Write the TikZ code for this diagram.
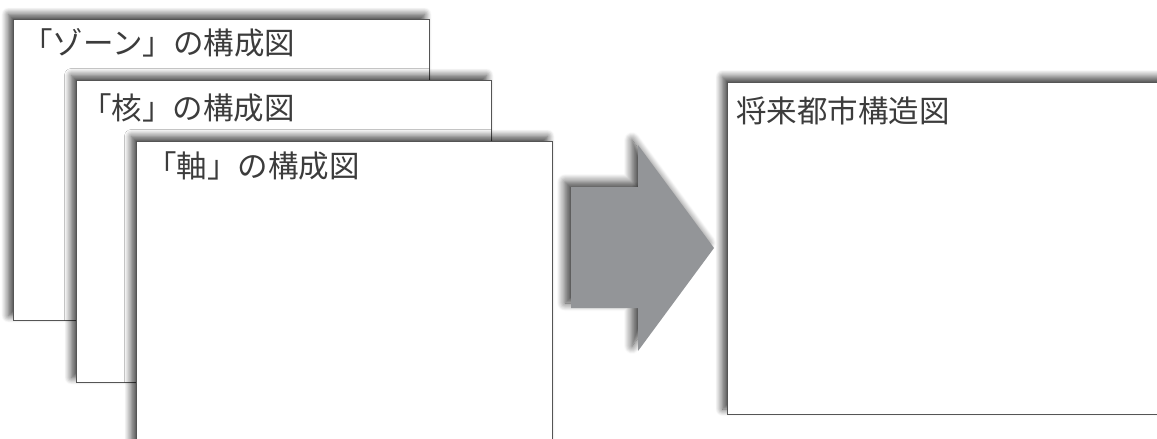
\documentclass[tikz,border=0pt]{standalone}
\usepackage{fontspec}
\newfontfamily\cjk{Noto Sans CJK JP}
\usetikzlibrary{shadows.blur}
\definecolor{edge}{HTML}{555555}
\definecolor{ink}{HTML}{3C3C3C}
\definecolor{arrowgray}{HTML}{939598}
\tikzset{
  panel/.style={draw=edge, line width=1pt, fill=white, anchor=north west, inner sep=0pt,
    blur shadow={shadow xshift=-5pt, shadow yshift=5pt, shadow blur radius=7pt, shadow blur steps=12, shadow opacity=75}},
  label/.style={anchor=west, inner sep=0pt, text=ink, font=\cjk\fontsize{30.5}{31}\selectfont},
  bigarrow/.style={fill=arrowgray, draw=none,
    blur shadow={shadow xshift=-6pt, shadow yshift=5pt, shadow blur radius=8pt, shadow blur steps=12, shadow opacity=75}}
}
\begin{document}
\begin{tikzpicture}[x=1pt, y=-1pt]
\useasboundingbox (0,0) rectangle (1157,439);
\clip (0,0) rectangle (1157,439);
\node[panel, minimum width=416pt, minimum height=301pt] (zone) at (13,19) {};
\node[label] (zonet) at (22,43) {「ゾーン」の構成図};
\node[panel, minimum width=415pt, minimum height=302pt] (kaku) at (76,80) {};
\node[label] (kakut) at (81,108) {「核」の構成図};
\node[panel, minimum width=416pt, minimum height=340pt] (jiku) at (136,141) {};
\node[label] (jikut) at (146,166) {「軸」の構成図};
\path[bigarrow] (571,187) -- (638,187) -- (638,145) -- (714,248) -- (638,351) -- (638,308) -- (571,308) -- cycle;
\node[panel, minimum width=470pt, minimum height=332pt] (future) at (727,81.5) {};
\node[label] (futuret) at (736,111) {将来都市構造図};
\end{tikzpicture}
\end{document}
